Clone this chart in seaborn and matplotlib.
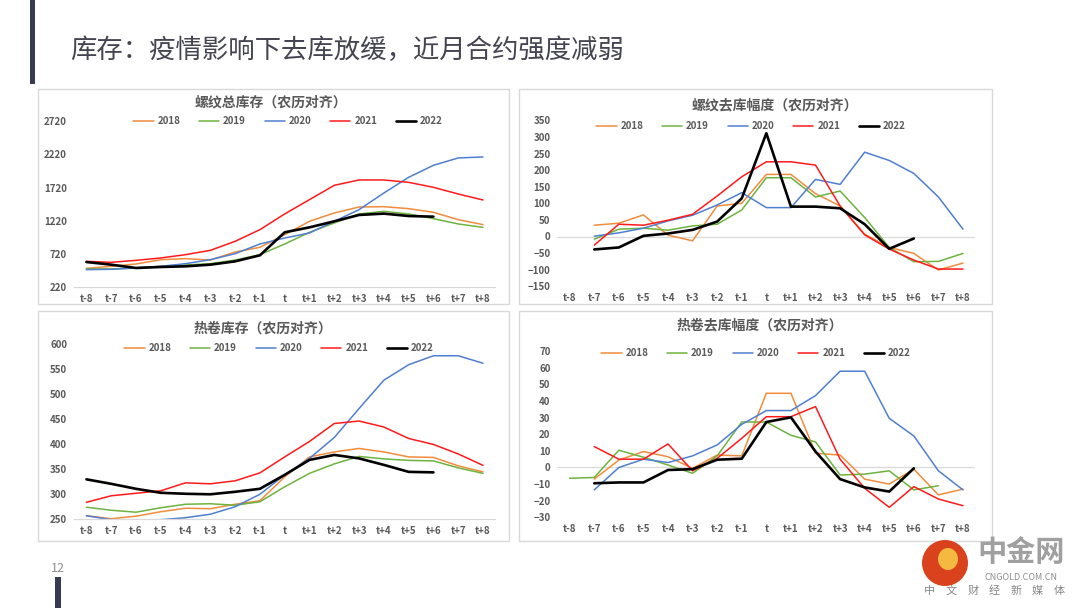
import matplotlib
matplotlib.use("Agg")
import matplotlib.pyplot as plt
from matplotlib.patches import Rectangle, Ellipse
import seaborn as sns
import numpy as np
import pandas as pd

# categories (lunar-calendar aligned weeks)
periods = ["t-8", "t-7", "t-6", "t-5", "t-4", "t-3", "t-2", "t-1", "t",
           "t+1", "t+2", "t+3", "t+4", "t+5", "t+6", "t+7", "t+8"]
years = ["2018", "2019", "2020", "2021", "2022"]
nan = np.nan

# 螺纹总库存
rebar_stock_2018 = [502, 532, 567, 632, 648, 627, 748, 819, 1010, 1211, 1337, 1427, 1432, 1402, 1347, 1236, 1161]
rebar_stock_2019 = [492, 492, 507, 532, 552, 572, 627, 708, 869, 1045, 1186, 1322, 1362, 1322, 1251, 1171, 1120]
rebar_stock_2020 = [482, 487, 507, 532, 572, 632, 723, 869, 959, 1035, 1211, 1387, 1638, 1875, 2056, 2167, 2182]
rebar_stock_2021 = [607, 592, 622, 658, 708, 773, 909, 1085, 1322, 1538, 1754, 1835, 1835, 1799, 1724, 1623, 1533]
rebar_stock_2022 = [597, 557, 507, 522, 532, 557, 607, 698, 1045, 1120, 1211, 1307, 1327, 1291, 1281, nan, nan]

# 螺纹去库幅度
rebar_draw_2018 = [nan, 34, 40, 65, 4, -13, 92, 100, 187, 187, 129, 92, 7, -33, -51, -101, -80]
rebar_draw_2019 = [nan, -8, 22, 25, 19, 32, 37, 80, 177, 177, 119, 137, 57, -33, -76, -75, -51]
rebar_draw_2020 = [nan, 1, 11, 25, 47, 64, 95, 132, 87, 87, 172, 157, 254, 229, 190, 119, 22]
rebar_draw_2021 = [nan, -26, 37, 34, 49, 67, 122, 180, 225, 225, 215, 92, 5, -38, -71, -98, -98]
rebar_draw_2022 = [nan, -39, -33, 2, 9, 20, 45, 115, 311, 90, 90, 85, 37, -37, -6, nan, nan]

# 热卷库存
hrc_stock_2018 = [256, 250, 255, 264, 271, 270, 279, 286, 334, 374, 384, 391, 384, 374, 373, 356, 344]
hrc_stock_2019 = [273, 267, 263, 272, 279, 280, 277, 284, 314, 341, 360, 375, 370, 367, 366, 352, 341]
hrc_stock_2020 = [256, 248, 245, 248, 252, 259, 274, 299, 338, 371, 413, 471, 528, 559, 577, 577, 562]
hrc_stock_2021 = [283, 296, 301, 306, 322, 320, 326, 342, 374, 405, 441, 446, 434, 411, 399, 380, 357]
hrc_stock_2022 = [329, 320, 310, 302, 300, 299, 304, 310, 338, 368, 378, 371, 358, 344, 343, nan, nan]

# 热卷去库幅度
hrc_draw_2018 = [nan, -7, 4.5, 9.6, 6.5, -0.5, 7.5, 7, 44.7, 44.7, 8.6, 7.5, -7, -10, -1, -16.5, -13]
hrc_draw_2019 = [-6.5, -6, 10.4, 6.2, 1.5, -3.5, 7, 27.4, 27.4, 19.4, 15.4, -4.5, -4, -2, -13.5, -11, nan]
hrc_draw_2020 = [nan, -13.5, 0, 5, 3, 7, 13.6, 26, 34.3, 34.3, 43.3, 58, 58, 29.6, 19, -2, -13.5]
hrc_draw_2021 = [nan, 12.6, 5, 5, 14.2, -2, 5.5, 17.6, 30.6, 30.6, 36.7, 5, -12.5, -24, -11.5, -19, -23]
hrc_draw_2022 = [nan, -9.5, -9, -9, -1.5, -1, 4.7, 5.3, 27.4, 30.2, 9.6, -7, -12, -14.5, -0.5, nan, nan]

colors = {"2018": "#F08C3C", "2019": "#6DB33F", "2020": "#4F7FD0", "2021": "#FF1A1A", "2022": "#000000"}
widths = {"2018": 1.1, "2019": 1.1, "2020": 1.1, "2021": 1.1, "2022": 1.9}

sns.set_style("white")
plt.rcParams["font.family"] = ["Noto Sans CJK SC", "DejaVu Sans"]

fig = plt.figure(figsize=(10.8, 6.08), dpi=100)
W, H = 1080, 608


def px_axes(x0, y0, x1, y1):
    return fig.add_axes([x0 / W, 1 - y1 / H, (x1 - x0) / W, (y1 - y0) / H])


def frame(x0, y0, x1, y1):
    fig.patches.append(Rectangle((x0 / W, 1 - y1 / H), (x1 - x0) / W, (y1 - y0) / H,
                                 transform=fig.transFigure, fill=False,
                                 edgecolor="#d9d9d9", linewidth=1.0))


def panel(box, axbox, title, title_xy, series, ylim, step, leg_xy, zero_line):
    frame(*box)
    ax = px_axes(*axbox)
    df = pd.DataFrame({y: s for y, s in zip(years, series)})
    df["period"] = range(len(periods))
    for y in years:
        sns.lineplot(data=df, x="period", y=y, ax=ax, color=colors[y],
                     linewidth=widths[y], label=y)
    ax.set_xlim(-0.5, len(periods) - 0.5)
    ax.set_ylim(*ylim)
    ax.set_yticks(np.arange(ylim[0], ylim[1] + 1, step))
    ax.set_xticks(range(len(periods)))
    ax.set_xticklabels(periods)
    ax.set_xlabel("")
    ax.set_ylabel("")
    ax.tick_params(length=0, labelsize=7, labelcolor="#595959", pad=5)
    for lab in ax.get_xticklabels() + ax.get_yticklabels():
        lab.set_fontweight("bold")
    for sp in ax.spines.values():
        sp.set_visible(False)
    if zero_line:
        ax.axhline(0, color="#d9d9d9", linewidth=0.9, zorder=0)
    else:
        ax.spines["bottom"].set_visible(True)
        ax.spines["bottom"].set_color("#d9d9d9")
        ax.spines["bottom"].set_linewidth(0.9)
    ax.patch.set_alpha(0)
    ax.legend(loc="center", bbox_to_anchor=(leg_xy[0] / W, 1 - leg_xy[1] / H),
              bbox_transform=fig.transFigure, ncol=5, frameon=False,
              handlelength=2.1, handletextpad=0.4, columnspacing=1.9,
              prop={"weight": "bold", "size": 7})
    for t in ax.get_legend().get_texts():
        t.set_color("#595959")
    fig.text(title_xy[0] / W, 1 - title_xy[1] / H, title, ha="center", va="center",
             fontsize=10, fontweight="bold", color="#595959")
    return ax


panel((38, 89, 509, 304), (74, 121.3, 495.4, 287), "螺纹总库存（农历对齐）", (271, 103),
      [rebar_stock_2018, rebar_stock_2019, rebar_stock_2020, rebar_stock_2021, rebar_stock_2022],
      (220, 2720), 500, (288, 121.5), False)
panel((519, 89, 992, 304), (557.4, 120.3, 975.3, 286.3), "螺纹去库幅度（农历对齐）", (775, 105),
      [rebar_draw_2018, rebar_draw_2019, rebar_draw_2020, rebar_draw_2021, rebar_draw_2022],
      (-150, 350), 50, (751, 126), True)
panel((38, 311, 509, 541), (74, 344.3, 495.4, 518.7), "热卷库存（农历对齐）", (263, 329),
      [hrc_stock_2018, hrc_stock_2019, hrc_stock_2020, hrc_stock_2021, hrc_stock_2022],
      (250, 600), 50, (279, 348), False)
panel((519, 311, 992, 541), (557.4, 351.3, 975.3, 517.3), "热卷去库幅度（农历对齐）", (760, 325),
      [hrc_draw_2018, hrc_draw_2019, hrc_draw_2020, hrc_draw_2021, hrc_draw_2022],
      (-30, 70), 10, (756, 353), True)

# page decoration
fig.patches.append(Rectangle((30 / W, 1 - 84 / H), 5 / W, 84 / H, transform=fig.transFigure,
                             color="#363a55", linewidth=0))
fig.patches.append(Rectangle((55 / W, 0), 6 / W, 31 / H, transform=fig.transFigure,
                             color="#363a55", linewidth=0))
fig.text(70 / W, 1 - 50 / H, "库存：疫情影响下去库放缓，近月合约强度减弱", ha="left", va="center",
         fontsize=19, color="#454552")
fig.text(58 / W, 1 - 568 / H, "12", ha="center", va="center", fontsize=9, color="#8c8c8c")

# watermark
fig.patches.append(Ellipse((945 / W, 1 - 563 / H), 46 / W, 46 / H, transform=fig.transFigure,
                           color="#d9421c", linewidth=0))
fig.patches.append(Ellipse((948 / W, 1 - 559 / H), 20 / W, 22 / H, transform=fig.transFigure,
                           color="#f5b942", linewidth=0))
fig.text(1021 / W, 1 - 552 / H, "中金网", ha="center", va="center", fontsize=21,
         fontweight="bold", color="#a0a0a0")
fig.text(1021 / W, 1 - 577 / H, "CNGOLD.COM.CN", ha="center", va="center", fontsize=6.5,
         color="#909090")
for i, ch in enumerate("中文财经新媒体"):
    fig.text((930 + i * 21.5) / W, 1 - 591 / H, ch, ha="center", va="center", fontsize=8,
             color="#888888")

fig.savefig("out.png", dpi=100)
